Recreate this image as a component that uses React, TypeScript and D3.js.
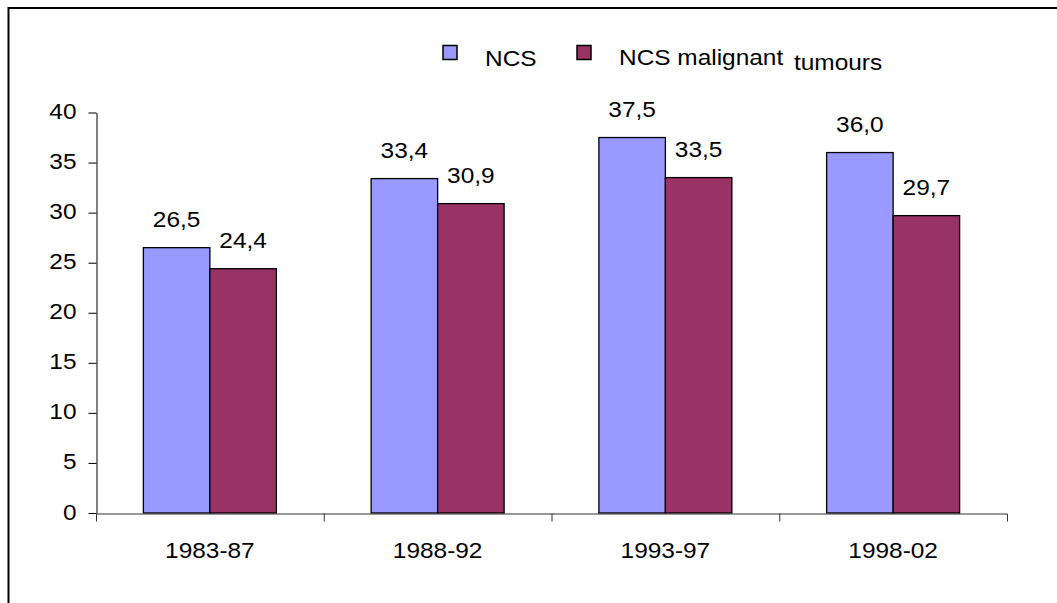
import { useRef, useEffect } from "react";
import * as d3 from "d3";

// chart data
const categories = ["1983-87", "1988-92", "1993-97", "1998-02"];
const seriesNames = ["NCS", "NCS malignant"];
const ncsValues = [26.5, 33.4, 37.5, 36.0];
const malignantValues = [24.4, 30.9, 33.5, 29.7];
const yTicks = [0, 5, 10, 15, 20, 25, 30, 35, 40];

const colors = ["#9999FF", "#993366"];
const FONT = "'Liberation Sans', Arial, sans-serif";
const STRETCH = 1.11;

const App = () => {
  const svgRef = useRef<SVGSVGElement | null>(null);

  useEffect(() => {
    const width = 1057;
    const height = 603;
    const plot = { left: 96, right: 1007, top: 112.5, bottom: 513 };

    const svg = d3.select(svgRef.current);
    svg.selectAll("*").remove();
    svg.attr("width", width).attr("height", height);

    // outer frame (runs off the right and bottom edges)
    svg.append("rect")
      .attr("x", 8.5).attr("y", 8)
      .attr("width", 1200).attr("height", 800)
      .attr("fill", "#fff")
      .attr("stroke", "#000")
      .attr("stroke-width", 2);

    const x0 = d3.scaleBand<string>()
      .domain(categories)
      .range([plot.left, plot.right])
      .paddingInner(0)
      .paddingOuter(0);

    const barW = 66.5;
    const x1 = d3.scaleBand<string>()
      .domain(seriesNames)
      .range([0, x0.bandwidth()])
      .paddingInner(0)
      .paddingOuter((x0.bandwidth() / barW - 2) / 2);

    const y = d3.scaleLinear().domain([0, 40]).range([plot.bottom, plot.top]);

    const fmt = (v: number) => v.toFixed(1).replace(".", ",");

    // y axis
    const yAxis = d3.axisLeft(y).tickValues(yTicks).tickSize(8).tickPadding(12).tickSizeOuter(0);
    const gy = svg.append("g")
      .attr("transform", `translate(${plot.left + 0.5},0)`)
      .call(yAxis);
    gy.select(".domain").attr("stroke", "#000");
    gy.selectAll(".tick line").attr("stroke", "#000");
    gy.selectAll<SVGTextElement, number>(".tick text")
      .attr("x", null)
      .attr("dy", null)
      .attr("transform", `translate(-20,6) scale(${STRETCH},1)`)
      .attr("font-family", FONT)
      .attr("font-size", 22)
      .attr("fill", "#000");

    // bars
    const data = categories.map((c, i) => ({ c, vals: [ncsValues[i], malignantValues[i]] }));
    const groups = svg.append("g").selectAll("g")
      .data(data)
      .join("g")
      .attr("transform", d => `translate(${x0(d.c)},0)`);

    groups.selectAll("rect")
      .data(d => d.vals.map((v, k) => ({ v, s: seriesNames[k], k })))
      .join("rect")
      .attr("x", d => x1(d.s) as number)
      .attr("y", d => y(d.v))
      .attr("width", x1.bandwidth())
      .attr("height", d => y(0) - y(d.v))
      .attr("fill", d => colors[d.k])
      .attr("stroke", "#000")
      .attr("stroke-width", 1.3);

    groups.selectAll("text")
      .data(d => d.vals.map((v, k) => ({ v, s: seriesNames[k] })))
      .join("text")
      .attr("transform", d => `translate(${(x1(d.s) as number) + x1.bandwidth() / 2},${y(d.v) - 21}) scale(${STRETCH},1)`)
      .attr("text-anchor", "middle")
      .attr("font-family", FONT)
      .attr("font-size", 22)
      .attr("fill", "#000")
      .text(d => fmt(d.v));

    // x axis
    const xAxis = d3.axisBottom(x0).tickSize(0).tickSizeOuter(8);
    const gx = svg.append("g")
      .attr("transform", `translate(0,${plot.bottom + 0.5})`)
      .call(xAxis);
    gx.select(".domain").attr("stroke", "#333");
    gx.selectAll<SVGTextElement, string>(".tick text")
      .attr("y", null)
      .attr("dy", null)
      .attr("transform", `translate(0,44) scale(${STRETCH},1)`)
      .attr("font-family", FONT)
      .attr("font-size", 22)
      .attr("fill", "#000");
    gx.append("g").selectAll("line")
      .data(categories.slice(1))
      .join("line")
      .attr("x1", d => (x0(d) as number) + 0.5)
      .attr("x2", d => (x0(d) as number) + 0.5)
      .attr("y1", 0)
      .attr("y2", 8)
      .attr("stroke", "#333");

    // legend
    const legendItems = [
      { name: "NCS", sq: 443, tx: 485, ty: 66, extra: "" },
      { name: "NCS malignant", sq: 577, tx: 619, ty: 65, extra: "tumours" },
    ];
    const lg = svg.append("g");
    legendItems.forEach((it, k) => {
      lg.append("rect")
        .attr("x", it.sq).attr("y", 45.5)
        .attr("width", 14).attr("height", 14)
        .attr("fill", colors[k])
        .attr("stroke", "#000")
        .attr("stroke-width", 1.5);
      lg.append("text")
        .attr("transform", `translate(${it.tx},${it.ty}) scale(${STRETCH},1)`)
        .attr("font-family", FONT)
        .attr("font-size", 22)
        .attr("fill", "#000")
        .text(it.name);
      if (it.extra) {
        lg.append("text")
          .attr("transform", `translate(794,70) scale(${STRETCH},1)`)
          .attr("font-family", FONT)
          .attr("font-size", 22)
          .attr("fill", "#000")
          .text(it.extra);
      }
    });
  }, []);

  return (
    <svg ref={svgRef} style={{ position: "absolute", left: 0, top: 0, display: "block" }} />
  );
};

export default App;
